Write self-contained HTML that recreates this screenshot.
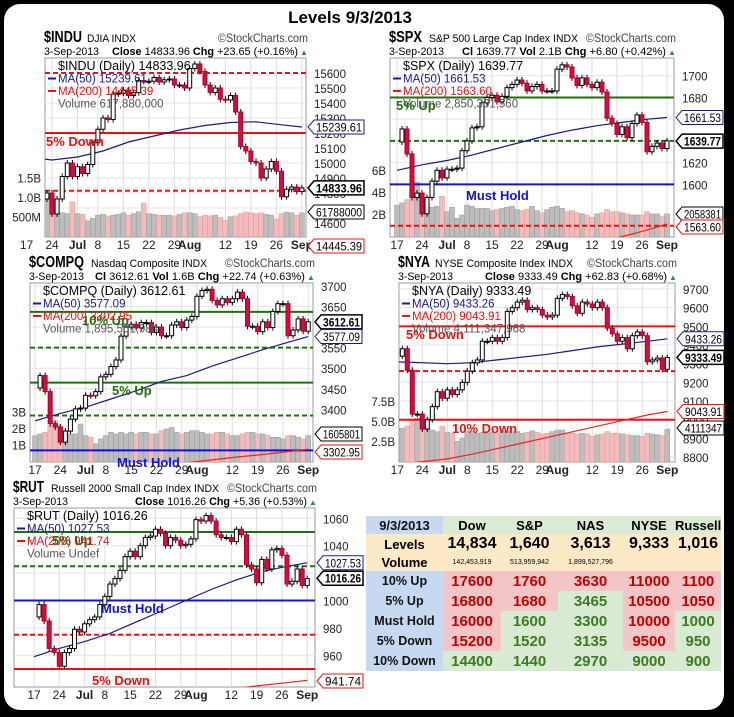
<!DOCTYPE html>
<html><head><meta charset="utf-8">
<style>
html,body{margin:0;padding:0;}
body{width:734px;height:717px;background:#000;position:relative;overflow:hidden;font-family:"Liberation Sans",sans-serif;}
#frame{position:absolute;left:4px;top:4px;width:720px;height:706px;background:#fff;border-radius:16px;}
#charts{position:absolute;left:0;top:0;}
#title{position:absolute;left:0;width:700px;top:8px;text-align:center;font-weight:bold;font-size:17px;color:#000;}
#levels-table{position:absolute;left:366px;top:516px;width:355px;border-collapse:collapse;table-layout:fixed;font-family:"Liberation Sans",sans-serif;}
#levels-table td{padding:0;text-align:center;font-weight:bold;white-space:nowrap;overflow:hidden;}
.hd td{height:18px;font-size:13px;background:#dbead3;}
.lab{background:#c6d9f0 !important;font-size:12.5px;color:#111;}
.lv td{background:#fde9c6;}
.big{font-size:16px;height:20px;}
.tiny{font-size:7px;font-weight:normal !important;height:17px;}
.r{color:#c00000;font-size:15px;height:20px;}
.g{color:#3b7a1f;font-size:15px;height:20px;}
.rb{background:#f2c6c6;}
.gb{background:#d9ead3;}
</style></head>
<body>
<div id="frame"></div>
<div id="title">Levels 9/3/2013</div>
<svg id="charts" width="734" height="717" xmlns="http://www.w3.org/2000/svg"><defs id="defs"></defs></svg>

<table id="levels-table">
<colgroup><col style="width:77px"><col style="width:58px"><col style="width:57px"><col style="width:65px"><col style="width:52px"><col style="width:46px"></colgroup>
<tr class="hd"><td class="lab" style="font-size:13px">9/3/2013</td><td>Dow</td><td>S&amp;P</td><td>NAS</td><td>NYSE</td><td>Russell</td></tr>
<tr class="lv"><td class="big" style="font-size:13px">Levels</td><td class="big">14,834</td><td class="big">1,640</td><td class="big">3,613</td><td class="big">9,333</td><td class="big">1,016</td></tr>
<tr class="lv"><td style="font-size:13px;height:17px">Volume</td><td class="tiny">142,453,919</td><td class="tiny">513,959,942</td><td class="tiny">1,899,527,796</td><td class="tiny"></td><td class="tiny"></td></tr>
<tr><td class="lab">10% Up</td><td class="r rb">17600</td><td class="r rb">1760</td><td class="r rb">3630</td><td class="r rb">11000</td><td class="r rb">1100</td></tr>
<tr><td class="lab">5% Up</td><td class="r rb">16800</td><td class="r rb">1680</td><td class="g gb">3465</td><td class="r rb">10500</td><td class="r rb">1050</td></tr>
<tr><td class="lab">Must Hold</td><td class="r rb">16000</td><td class="g gb">1600</td><td class="g gb">3300</td><td class="r rb">10000</td><td class="g gb">1000</td></tr>
<tr><td class="lab">5% Down</td><td class="r rb">15200</td><td class="g gb">1520</td><td class="g gb">3135</td><td class="r rb">9500</td><td class="g gb">950</td></tr>
<tr><td class="lab">10% Down</td><td class="g gb">14400</td><td class="g gb">1440</td><td class="g gb">2970</td><td class="g gb">9000</td><td class="g gb">900</td></tr>
</table>

<script>
// ---- shared x-axis data ----
const xTickIdx = [0,5,10,14,19,24,29,32,39,44,49,54];
const xTickLabels = ["17","24","Jul","8","15","22","29","Aug","12","19","26","Sep"];
const maIdx = [0,5,10,15,20,25,30,35,40,45,50,54];

// ---- INDU ----
const induCloses = [15180,15320,15110,14760,14800,14660,14760,14910,15000,14910,14975,14930,14990,15135,15225,15300,15290,15460,15465,15485,15450,15470,15550,15545,15545,15570,15540,15555,15560,15520,15520,15500,15630,15660,15610,15520,15470,15500,15425,15420,15450,15340,15110,15080,15010,15000,14900,14960,15010,14945,14775,14825,14840,14810,14834];
const induVolume = [600,650,700,900,1100,750,650,620,600,900,600,580,420,480,560,580,540,560,580,620,560,600,650,870,600,580,560,560,560,540,580,620,620,600,520,560,540,560,500,420,520,540,600,640,620,600,620,580,560,460,600,640,620,560,620];
const induMA50 = [15040,15020,15040,15080,15140,15180,15220,15250,15270,15275,15255,15240];
const induMA200 = [14300,14320,14340,14360,14375,14390,14400,14410,14420,14430,14440,14445];
const induTicks = [14600,14700,14800,14900,15000,15100,15200,15300,15400,15500,15600];
const induLevelValues = [15600,15200,14815];
const induVolTicks = [500,1000,1500];
const induVolTickLabels = ["500M","1.0B","1.5B"];

// ---- SPX ----
const spxCloses = [1639,1651,1628,1588,1592,1573,1588,1603,1613,1606,1614,1614,1615,1631,1640,1652,1653,1675,1680,1682,1676,1681,1689,1692,1696,1693,1686,1690,1692,1686,1686,1686,1706,1710,1708,1698,1691,1698,1692,1689,1694,1685,1661,1656,1646,1653,1643,1656,1664,1657,1630,1635,1638,1633,1640];
const spxVolume = [2.9,3.1,3.4,4.5,5.0,4.0,3.0,2.7,2.8,3.7,2.3,2.7,1.7,2.0,2.9,2.8,2.6,2.6,2.6,2.4,2.5,2.6,2.7,2.8,2.5,2.4,2.5,2.8,2.4,2.2,2.5,2.7,2.8,2.6,2.3,2.4,2.2,2.1,2.0,1.8,2.1,2.2,2.5,2.3,2.3,2.2,2.1,2.0,2.0,2.0,2.3,2.1,2.1,1.9,2.1];
const spxMA50 = [1613,1618,1622,1627,1633,1639,1645,1650,1654,1657,1660,1661.5];
const spxMA200 = [1500,1505,1510,1516,1522,1528,1534,1540,1546,1552,1558,1563.6];
const spxTicks = [1600,1620,1640,1660,1680,1700];
const spxLevelValues = [1680,1640,1600,1562];
const spxVolTicks = [2,4,6];
const spxVolTickLabels = ["2B","4B","6B"];

// ---- COMPQ ----
const compqCloses = [3452,3482,3443,3365,3357,3320,3347,3376,3401,3403,3434,3433,3443,3479,3485,3504,3520,3578,3600,3607,3598,3611,3611,3587,3600,3579,3579,3605,3613,3599,3617,3626,3675,3689,3692,3665,3654,3669,3660,3669,3685,3669,3602,3602,3589,3613,3599,3638,3657,3657,3579,3593,3620,3590,3613];
const compqVolume = [1.6,1.7,1.8,2.2,2.5,2.2,1.9,1.7,1.7,2.3,1.6,1.5,1.1,1.4,1.6,1.8,1.7,1.8,1.7,1.8,1.7,1.8,1.8,1.7,1.7,1.9,2.0,2.1,1.8,1.7,1.8,1.9,1.9,1.8,1.7,1.7,1.8,1.8,1.7,1.6,1.6,1.7,1.8,1.8,1.7,1.7,1.6,1.5,1.5,1.4,1.6,1.6,1.5,1.4,1.6];
const compqMA50 = [3372,3390,3405,3425,3445,3468,3482,3505,3525,3545,3563,3577];
const compqMA200 = [3230,3237,3244,3250,3257,3264,3270,3277,3284,3290,3297,3303];
const compqTicks = [3400,3450,3500,3550,3600,3650,3700];
const compqLevelValues = [3637,3550,3465,3385,3300];
const compqVolTicks = [1,2,3];
const compqVolTickLabels = ["1B","2B","3B"];

// ---- NYA ----
const nyaCloses = [9340,9380,9265,9030,9030,8950,9000,9070,9150,9115,9160,9135,9160,9200,9260,9305,9320,9420,9420,9440,9420,9440,9580,9600,9630,9640,9590,9600,9590,9560,9550,9560,9650,9670,9660,9610,9570,9630,9620,9600,9630,9600,9490,9460,9420,9440,9380,9450,9470,9450,9310,9320,9330,9270,9333];
const nyaVolume = [4.0,4.2,4.5,5.2,5.5,4.5,4.2,4.0,3.8,4.5,3.7,3.6,2.6,3.0,3.9,3.8,3.6,3.7,3.6,3.7,3.6,3.8,3.9,3.8,3.8,3.6,3.7,3.9,3.7,3.5,3.6,3.8,4.0,4.0,3.5,3.6,3.5,3.6,3.5,3.2,3.4,3.5,3.8,3.6,3.6,3.5,3.4,3.3,3.3,3.2,3.6,3.5,3.4,3.3,4.1];
const nyaMA50 = [9310,9305,9300,9305,9320,9335,9350,9370,9390,9405,9420,9433];
const nyaMA200 = [8760,8775,8790,8815,8845,8875,8905,8935,8965,8995,9025,9044];
const nyaTicks = [8800,8900,9000,9100,9200,9300,9400,9500,9600,9700];
const nyaLevelValues = [9500,9260,9000];
const nyaVolTicks = [2.5,5.0,7.5];
const nyaVolTickLabels = ["2.5B","5.0B","7.5B"];

// ---- RUT ----
const rutCloses = [988,997,985,965,962,952,962,965,979,977,983,986,988,997,1003,1012,1016,1022,1032,1036,1032,1040,1046,1047,1052,1049,1040,1046,1044,1040,1041,1045,1059,1058,1062,1058,1048,1046,1046,1043,1052,1048,1026,1023,1013,1030,1023,1037,1038,1033,1012,1014,1023,1011,1016];
const rutMA50 = [959,965,970,976,984,992,1000,1008,1015,1021,1025,1027.5];
const rutMA200 = [920,922,924,926,928,930,932,934,936,938,940,941.7];
const rutTicks = [960,980,1000,1020,1040,1060];
const rutLevelValues = [1050,1025,1000,975,950];

const NS='http://www.w3.org/2000/svg';
const svg=document.getElementById('charts');
const defs=document.getElementById('defs');
function mk(tag,attrs,parent){const e=document.createElementNS(NS,tag);for(const k in attrs)e.setAttribute(k,attrs[k]);(parent||svg).appendChild(e);return e;}
function txt(s,attrs,parent){const e=mk('text',attrs,parent);e.textContent=s;return e;}

const RED='#ee1111', GRN='#1f6f10', BLU='#1111dd';

function draw(c){
  const g=mk('g',{});
  
  
  const [L,T,R,B]=c.plot;
  const X=i=>c.x0+i*c.dx;
  const Y=p=>c.yRef+(c.pRef-p)*c.k;
  const cp=document.createElementNS(NS,'clipPath');cp.setAttribute('id','clip-'+c.name);defs.appendChild(cp);
  mk('rect',{x:L,y:T,width:R-L,height:B-T},cp);
  const plotBg=mk('rect',{x:L,y:T,width:R-L,height:B-T,fill:'#fff',stroke:'#999','stroke-width':1},g);
  
  
  const pg=mk('g',{'clip-path':'url(#clip-'+c.name+')'},g);
  xTickIdx.forEach(i=>{mk('line',{x1:X(i),x2:X(i),y1:T,y2:B,stroke:'#ddd','stroke-width':1},pg);});
  c.ticks.forEach(p=>{mk('line',{x1:L,x2:R,y1:Y(p),y2:Y(p),stroke:'#e4e4e4','stroke-width':1},pg);});
  if(c.vol){
    c.vol.forEach((v,i)=>{
      const up=i===0?true:c.closes[i]>=c.closes[i-1];
      const h=v*c.volK;
      const b=mk('rect',{x:X(i)-2.5,y:B-h,width:5,height:h,fill:up?'#bdbdbd':'#f2bcbc',stroke:up?'#9a9a9a':'#e09a9a','stroke-width':0.5},pg);
      
      
    });
    c.volTicks.forEach((v,j)=>{
      const t=txt(c.volTickLabels[j],{x:L-4,y:B-v*c.volK+4,'font-size':11.5,'text-anchor':'end',fill:'#222'},g);
      
      
    });
  }
  c.levels.forEach((p,j)=>{
    const st=c.levelStyles[j];
    const l=mk('line',{x1:L,x2:R,y1:Y(p),y2:Y(p),stroke:st[0],'stroke-width':2,'stroke-dasharray':st[1]?'5,3':'none'},pg);
    
    
  });
  const path=arr=>arr.map((v,j)=>(j?'L':'M')+X(maIdx[j]).toFixed(1)+','+Y(v).toFixed(1)).join('');
  const m50=mk('path',{d:path(c.ma50),fill:'none',stroke:'#1a1a80','stroke-width':1.2},pg);
  
  
  const m200=mk('path',{d:path(c.ma200),fill:'none',stroke:'#ee2222','stroke-width':1.2},pg);
  
  
  c.closes.forEach((cl,i)=>{
    if(i===0)return;
    const op=c.closes[i-1];
    const up=cl>=op;
    const y1=Y(Math.max(op,cl)),y2=Y(Math.min(op,cl));
    const w=mk('line',{x1:X(i),x2:X(i),y1:y1-3,y2:y2+3,stroke:'#000','stroke-width':1},pg);
    
    
    const r=mk('rect',{x:X(i)-2,y:y1,width:4,height:Math.max(1,y2-y1),fill:up?'#fff':'#d0103a',stroke:up?'#000':'#b00030','stroke-width':1},pg);
    
    
  });
  c.levelLabels.forEach(a=>{
    const t=txt(a[0],{x:a[1],y:a[2],'font-size':13,'font-weight':'bold',fill:a[3]},g);
    
    
  });
  c.ticks.forEach(p=>{
    const t=txt(String(p),{x:R+8,y:Y(p)+5,'font-size':11.5,fill:'#222'},g);
    
    
  });
  xTickIdx.forEach((i,j)=>{
    const bold=/[A-Z]/.test(xTickLabels[j]);
    const t=txt(xTickLabels[j],{x:X(i),y:B+12,'font-size':12,'text-anchor':'middle','font-weight':bold?'bold':'normal',fill:'#222'},g);
    
    
  });
  // header
  const h1=txt(c.symbol,{x:L-1,y:T-16,fill:'#000','font-size':16,'font-weight':'bold',textLength:c.symW,lengthAdjust:'spacingAndGlyphs'},g);
  
  
  const h2=txt(c.desc+'  INDX',{x:c.descX,y:T-16,'font-size':11,fill:'#000',textLength:c.descW,lengthAdjust:'spacingAndGlyphs'},g);
  
  
  const wm=txt('\u00a9StockCharts.com',{x:R+2-90,y:T-16,'font-size':11.5,fill:'#444',textLength:90,lengthAdjust:'spacingAndGlyphs'},g);
  
  
  const d=txt('3-Sep-2013',{x:L-1,y:T-3,'font-size':11,fill:'#000',textLength:55,lengthAdjust:'spacingAndGlyphs'},g);
  
  
  const st=txt('',{x:R-8,y:T-3,'font-size':11,'text-anchor':'end',fill:'#000',textLength:c.sumW,lengthAdjust:'spacingAndGlyphs'},g);
  
  
  c.summary.forEach((s,j)=>{const sp=mk('tspan',{'font-weight':j%2===0?'bold':'normal'},st);sp.textContent=(j?' ':'')+s;});
  txt('\u25B2',{x:R-6,y:T-3,'font-size':8,fill:'#3a8a3a'},g);
  const lg=[[c.symbol+' (Daily) '+c.last,'#000'],['MA(50) '+c.ma50Label,'#1a1a90'],['MA(200) '+c.ma200Label,'#ee1111'],['Volume '+c.volLabel,'#555']];
  lg.forEach((a,j)=>{
    const t=txt(a[0],{x:L+13,y:T+12+j*12.5,'font-size':j?11.5:12.5,fill:a[1]},g);
    
    
    if(j===1||j===2)mk('line',{x1:L+3,x2:L+11,y1:T+8+j*12.5,y2:T+8+j*12.5,stroke:a[1],'stroke-width':2},g);
  });
  c.tags.forEach(a=>{
    let y=a[2]!==null?a[2]:Y(a[1]);
    const W=a[4]||52;
    const pts=[[R+2,y],[R+8,y-7],[R+8+W,y-7],[R+8+W,y+7],[R+8,y+7]].map(p=>p.join(',')).join(' ');
    const tg=mk('polygon',{points:pts,fill:'#fff',stroke:a[3],'stroke-width':a[5]?1.5:1},g);
    
    
    const t=txt(a[0],{x:R+10,y:y+4.5,'font-size':12,'font-weight':a[5]?'bold':'normal',fill:'#000',textLength:W-4,lengthAdjust:'spacingAndGlyphs'},g);
    
    
  });
}

draw({name:'indu',symbol:'$INDU',symW:38,desc:'DJIA',descX:87,descW:49,plot:[45,58,306,237],x0:26.5,dx:5.1,pRef:15600,yRef:73,k:0.15,sumW:186,
  closes:induCloses,vol:induVolume,volK:0.039,volTicks:induVolTicks,volTickLabels:induVolTickLabels,
  ma50:induMA50,ma200:induMA200,ticks:induTicks,levels:induLevelValues,levelStyles:[[RED,1],[RED,0],[RED,1]],
  levelLabels:[['5% Down',46,146,RED]],summary:['Close','14833.96','Chg','+23.65 (+0.16%)'],
  last:'14833.96',ma50Label:'15239.61',ma200Label:'14445.39',volLabel:'617,880,000',
  tags:[['15239.61',15239.61,null,'#1a1a80',50],['14833.96',14833.96,null,'#000',50,1],['61788000',0,212,'#000',50],['14445.39',0,246,RED,50]]});
draw({name:'spx',symbol:'$SPX',symW:33,desc:'S&P 500 Large Cap Index',descX:429,descW:149,plot:[390,58,674,237],x0:397,dx:5.0,pRef:1700,yRef:75.7,k:1.087,sumW:204,
  closes:spxCloses,vol:spxVolume,volK:11,volTicks:spxVolTicks,volTickLabels:spxVolTickLabels,
  ma50:spxMA50,ma200:spxMA200,ticks:spxTicks,levels:spxLevelValues,levelStyles:[[GRN,0],[GRN,1],[BLU,0],[RED,1]],
  levelLabels:[['5% Up',396,110,GRN],['Must Hold',466,200,BLU]],summary:['Cl','1639.77','Vol','2.1B','Chg','+6.80 (+0.42%)'],
  last:'1639.77',ma50Label:'1661.53',ma200Label:'1563.60',volLabel:'2,850,361,560',
  tags:[['1661.53',1661.53,null,'#1a1a80',41],['1639.77',1639.77,null,'#000',41,1],['2058381',0,214,'#000',41],['1563.60',0,227,RED,41]]});
draw({name:'compq',symbol:'$COMPQ',symW:55,desc:'Nasdaq Composite',descX:91,descW:116,plot:[30,283,313,462],x0:35,dx:5.06,pRef:3700,yRef:286,k:0.411,sumW:210,
  closes:compqCloses,vol:compqVolume,volK:16.5,volTicks:compqVolTicks,volTickLabels:compqVolTickLabels,
  ma50:compqMA50,ma200:compqMA200,ticks:compqTicks,levels:compqLevelValues,levelStyles:[[GRN,0],[GRN,1],[GRN,0],[GRN,1],[BLU,0]],
  levelLabels:[['10% Up',82,325,GRN],['5% Up',112,395,GRN],['Must Hold',117,467,BLU]],summary:['Cl','3612.61','Vol','1.6B','Chg','+22.74 (+0.63%)'],
  last:'3612.61',ma50Label:'3577.09',ma200Label:'3302.95',volLabel:'1,895,501,984',
  tags:[['3612.61',3612.61,null,'#000',41,1],['3577.09',3577.09,null,'#1a1a80',41],['1605801',0,434,'#000',41],['3302.95',0,452,RED,41]]});
draw({name:'nya',symbol:'$NYA',symW:32,desc:'NYSE Composite Index',descX:435,descW:138,plot:[399,283,675,462],x0:397.3,dx:5.0,pRef:9700,yRef:289,k:0.1867,sumW:182,
  closes:nyaCloses,vol:nyaVolume,volK:8,volTicks:nyaVolTicks,volTickLabels:nyaVolTickLabels,
  ma50:nyaMA50,ma200:nyaMA200,ticks:nyaTicks,levels:nyaLevelValues,levelStyles:[[RED,0],[RED,1],[RED,0]],
  levelLabels:[['5% Down',406,339,RED],['10% Down',452,433,RED]],summary:['Close','9333.49','Chg','+62.83 (+0.68%)'],
  last:'9333.49',ma50Label:'9433.26',ma200Label:'9043.91',volLabel:'4,111,347,968',
  tags:[['9433.26',9433.26,null,'#1a1a80',41],['9333.49',9333.49,null,'#000',41,1],['9043.91',9043.91,null,RED,41],['4111347',0,428,'#000',41]]});
draw({name:'rut',symbol:'$RUT',symW:31,desc:'Russell 2000 Small Cap Index',descX:51,descW:168,plot:[14,508,315,687],x0:34,dx:5.06,pRef:1060,yRef:518.3,k:1.37,sumW:172,
  closes:rutCloses,vol:null,ma50:rutMA50,ma200:rutMA200,ticks:rutTicks,levels:rutLevelValues,
  levelStyles:[[GRN,0],[GRN,1],[BLU,0],[RED,1],[RED,0]],
  levelLabels:[['5% Up',52,545,GRN],['Must Hold',101,613,BLU],['5% Down',92,685,RED]],summary:['Close','1016.26','Chg','+5.36 (+0.53%)'],
  last:'1016.26',ma50Label:'1027.53',ma200Label:'941.74',volLabel:'Undef',
  tags:[['1027.53',1027.53,null,'#1a1a80',40],['1016.26',1016.26,null,'#000',40,1],['941.74',0,681,RED,40]]});
</script>
</body></html>
